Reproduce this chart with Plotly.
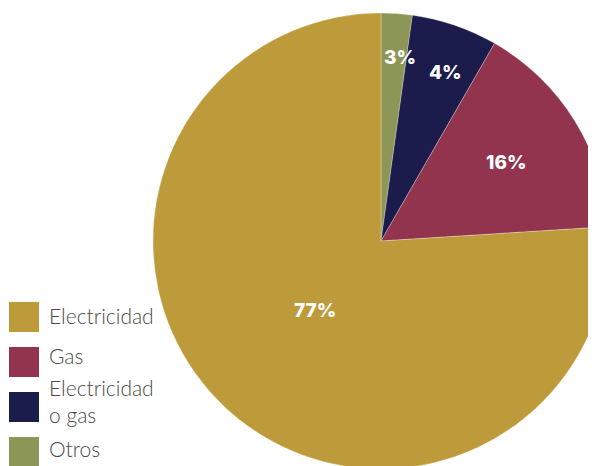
import math
import plotly.graph_objects as go

# Data (clockwise from 12 o'clock)
categories = ["Otros", "Electricidad o gas", "Gas", "Electricidad"]
slice_shares = [2.2, 6.1, 15.7, 76.0]          # slice sizes as drawn
label_texts = ["3%", "4%", "16%", "77%"]        # printed labels
colors = ["#8C9657", "#1B1C4B", "#93344F", "#BD9A3A"]
label_radius = [0.81, 0.79, 0.65, 0.42]         # style: label distance from centre
label_angle_nudge = [2.0, 2.0, 0.0, 0.0]        # style: degrees

legend_order = ["Electricidad", "Gas", "Electricidad o gas", "Otros"]
legend_text = {"Electricidad": "Electricidad", "Gas": "Gas",
               "Electricidad o gas": "Electricidad<br>o gas", "Otros": "Otros"}
legend_text_shift = {"Electricidad": -2, "Gas": -7, "Electricidad o gas": -6, "Otros": -4}

W, H = 610, 470
cx, cy, R = 373, 233, 228   # pie centre / radius in figure pixels

fig = go.Figure()
fig.add_trace(go.Pie(
    labels=categories, values=slice_shares,
    textinfo="none", sort=False, direction="clockwise", rotation=0,
    marker=dict(colors=colors, line=dict(color="rgba(255,255,255,0.45)", width=0.6)),
    domain=dict(x=[(cx - R) / W, (cx + R) / W], y=[(H - cy - R) / H, (H - cy + R) / H]),
    showlegend=False, hovertext=label_texts, hoverinfo="label+text",
))

annotations, shapes = [], []
total = sum(slice_shares)
cum = 0.0
for share, txt, rf, nd in zip(slice_shares, label_texts, label_radius, label_angle_nudge):
    mid = (cum + share / 2) / total * 2 * math.pi + math.radians(nd)
    cum += share
    px = cx + R * rf * math.sin(mid)
    py = cy - R * rf * math.cos(mid)
    annotations.append(dict(text=txt, xref="paper", yref="paper", x=px / W, y=1 - py / H,
                            xanchor="center", yanchor="middle", showarrow=False,
                            font=dict(family="Inter", size=19, color="white", weight=800)))

color_map = dict(zip(categories, colors))
sq, x0, top0, step = 30, 1, 294, 45
for i, name in enumerate(legend_order):
    top = top0 + i * step
    shapes.append(dict(type="rect", xref="paper", yref="paper",
                       x0=x0 / W, x1=(x0 + sq) / W,
                       y0=1 - (top + sq) / H, y1=1 - top / H,
                       fillcolor=color_map[name], line=dict(width=0)))
    tcy = top + sq / 2 + legend_text_shift[name]
    annotations.append(dict(text=legend_text[name], xref="paper", yref="paper",
                            x=(x0 + sq + 8) / W, y=1 - tcy / H, align="left",
                            xanchor="left", yanchor="middle", showarrow=False,
                            font=dict(family="Lato", size=21, color="#4a4a4a", weight=300)))

fig.update_layout(width=W, height=H, margin=dict(l=0, r=0, t=0, b=0),
                  paper_bgcolor="white", plot_bgcolor="white",
                  shapes=shapes, annotations=annotations)
fig.write_html("out.html")
